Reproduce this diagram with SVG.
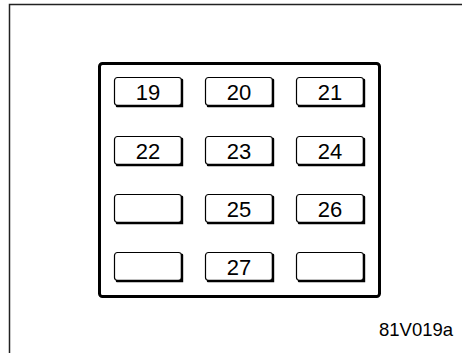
<svg xmlns="http://www.w3.org/2000/svg" width="462" height="353" viewBox="0 0 462 353">
<defs>
<style>
.frame{fill:none;stroke:#222;stroke-width:1.5}
.box{fill:none;stroke:#000;stroke-width:3}
.fuse rect{fill:#fff;stroke:#000;stroke-width:1.2}
.fuse path{fill:none;stroke:#000;stroke-width:2.4;stroke-linecap:round}
.fuse text{font-family:"Liberation Sans",Arial,sans-serif;font-size:22px;fill:#000;text-anchor:middle}
.code{font-family:"Liberation Sans",Arial,sans-serif;font-size:18.5px;fill:#000}
</style>
</defs>
<path class="frame" d="M9.5,353 V4.5 H462"/>
<rect id="panel" class="box" x="99.5" y="63.5" width="280" height="233" rx="3"/>
<g id="fuse19" class="fuse" transform="translate(114,77)"><rect x="0.5" y="0.5" width="67" height="28" rx="3"/><path d="M68,3 V29 H3"/><text x="34" y="23">19</text></g>
<g id="fuse20" class="fuse" transform="translate(205,77)"><rect x="0.5" y="0.5" width="67" height="28" rx="3"/><path d="M68,3 V29 H3"/><text x="34" y="23">20</text></g>
<g id="fuse21" class="fuse" transform="translate(296,77)"><rect x="0.5" y="0.5" width="67" height="28" rx="3"/><path d="M68,3 V29 H3"/><text x="34" y="23">21</text></g>
<g id="fuse22" class="fuse" transform="translate(114,136)"><rect x="0.5" y="0.5" width="67" height="28" rx="3"/><path d="M68,3 V29 H3"/><text x="34" y="23">22</text></g>
<g id="fuse23" class="fuse" transform="translate(205,136)"><rect x="0.5" y="0.5" width="67" height="28" rx="3"/><path d="M68,3 V29 H3"/><text x="34" y="23">23</text></g>
<g id="fuse24" class="fuse" transform="translate(296,136)"><rect x="0.5" y="0.5" width="67" height="28" rx="3"/><path d="M68,3 V29 H3"/><text x="34" y="23">24</text></g>
<g id="fuseA" class="fuse" transform="translate(114,194)"><rect x="0.5" y="0.5" width="67" height="28" rx="3"/><path d="M68,3 V29 H3"/></g>
<g id="fuse25" class="fuse" transform="translate(205,194)"><rect x="0.5" y="0.5" width="67" height="28" rx="3"/><path d="M68,3 V29 H3"/><text x="34" y="23">25</text></g>
<g id="fuse26" class="fuse" transform="translate(296,194)"><rect x="0.5" y="0.5" width="67" height="28" rx="3"/><path d="M68,3 V29 H3"/><text x="34" y="23">26</text></g>
<g id="fuseB" class="fuse" transform="translate(114,252)"><rect x="0.5" y="0.5" width="67" height="28" rx="3"/><path d="M68,3 V29 H3"/></g>
<g id="fuse27" class="fuse" transform="translate(205,252)"><rect x="0.5" y="0.5" width="67" height="28" rx="3"/><path d="M68,3 V29 H3"/><text x="34" y="23">27</text></g>
<g id="fuseC" class="fuse" transform="translate(296,252)"><rect x="0.5" y="0.5" width="67" height="28" rx="3"/><path d="M68,3 V29 H3"/></g>
<text id="code" class="code" x="379" y="336">81V019a</text>
</svg>
